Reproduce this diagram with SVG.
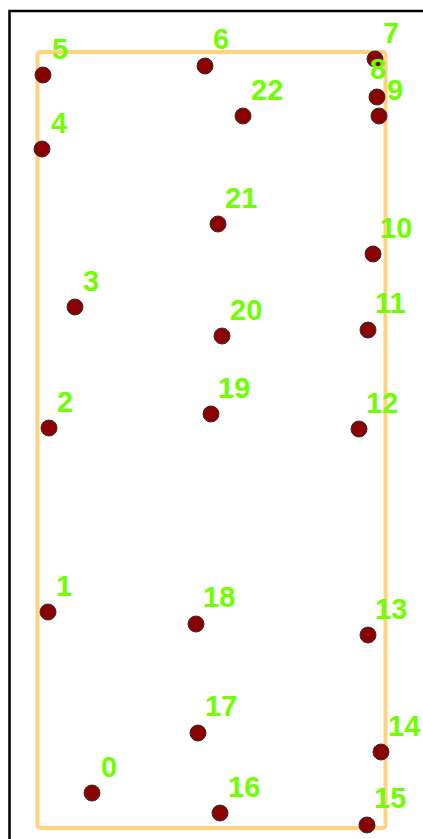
<svg xmlns="http://www.w3.org/2000/svg" width="423" height="839" viewBox="0 0 423 839">
<style>
.node circle{fill:#8b0000;stroke:#333;stroke-width:1}
.node text{fill:#70ff00;font-family:"Liberation Sans",Arial,sans-serif;font-weight:bold;font-size:29px}
</style>
<rect x="0" y="0" width="423" height="839" fill="#fff"/>
<rect x="9.5" y="11" width="440" height="860" fill="none" stroke="#000" stroke-width="2.5"/>
<g id="connectors">
<rect x="37.5" y="52" width="348" height="776" rx="3" fill="none" stroke="#ffd280" stroke-width="4"/>
</g>
<g id="n0" class="node"><circle cx="92" cy="793" r="8"/><text x="101" y="777">0</text></g>
<g id="n1" class="node"><circle cx="48" cy="612" r="8"/><text x="56" y="596">1</text></g>
<g id="n2" class="node"><circle cx="49" cy="428" r="8"/><text x="57" y="412">2</text></g>
<g id="n3" class="node"><circle cx="75" cy="307" r="8"/><text x="83" y="291">3</text></g>
<g id="n4" class="node"><circle cx="42" cy="149" r="8"/><text x="51" y="133">4</text></g>
<g id="n5" class="node"><circle cx="43" cy="75" r="8"/><text x="52" y="59">5</text></g>
<g id="n6" class="node"><circle cx="205" cy="66" r="8"/><text x="213" y="49">6</text></g>
<g id="n7" class="node"><circle cx="375" cy="59" r="8"/><text x="383" y="43">7</text></g>
<g id="n8" class="node"><circle cx="377" cy="97" r="8"/><text x="370" y="79">8</text></g>
<g id="n9" class="node"><circle cx="379" cy="116" r="8"/><text x="387" y="100">9</text></g>
<g id="n10" class="node"><circle cx="373" cy="254" r="8"/><text x="380" y="238">10</text></g>
<g id="n11" class="node"><circle cx="368" cy="330" r="8"/><text x="375" y="313">11</text></g>
<g id="n12" class="node"><circle cx="359" cy="429" r="8"/><text x="366" y="413">12</text></g>
<g id="n13" class="node"><circle cx="368" cy="635" r="8"/><text x="375" y="619">13</text></g>
<g id="n14" class="node"><circle cx="381" cy="752" r="8"/><text x="388" y="736">14</text></g>
<g id="n15" class="node"><circle cx="367" cy="825" r="8"/><text x="374" y="808">15</text></g>
<g id="n16" class="node"><circle cx="220" cy="813" r="8"/><text x="228" y="797">16</text></g>
<g id="n17" class="node"><circle cx="198" cy="733" r="8"/><text x="205" y="716">17</text></g>
<g id="n18" class="node"><circle cx="196" cy="624" r="8"/><text x="203" y="607">18</text></g>
<g id="n19" class="node"><circle cx="211" cy="414" r="8"/><text x="218" y="398">19</text></g>
<g id="n20" class="node"><circle cx="222" cy="336" r="8"/><text x="230" y="320">20</text></g>
<g id="n21" class="node"><circle cx="218" cy="224" r="8"/><text x="225" y="208">21</text></g>
<g id="n22" class="node"><circle cx="243" cy="116" r="8"/><text x="251" y="100">22</text></g>
</svg>
